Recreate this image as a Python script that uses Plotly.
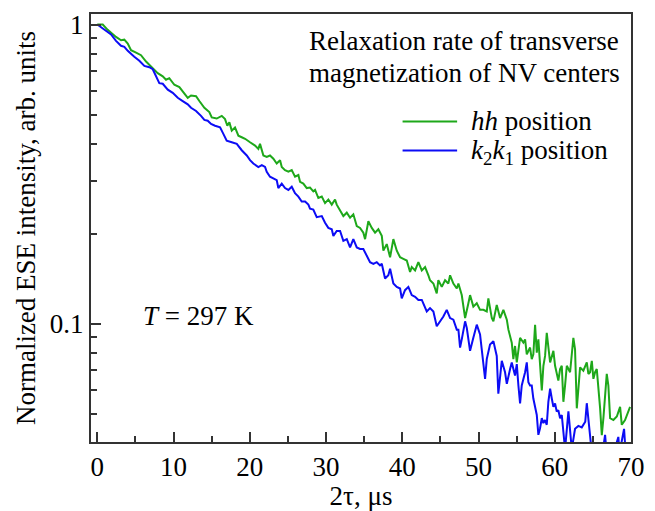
import plotly.graph_objects as go

# hh position (green)
x_hh = [0, 0.71, 1.36, 1.89, 2.45, 3.11, 3.54, 3.99, 4.42, 5.08, 5.73, 6.39, 6.82, 7.48, 7.92, 8.58, 9.01, 9.44,
        10.10, 10.76, 11.41, 11.86, 12.29, 12.95, 13.38, 14.04, 14.69, 15.01, 15.66, 16.32, 16.75, 17.05, 17.32,
        17.63, 18.06, 18.50, 18.94, 19.38, 20.03, 20.69, 21.12, 21.34, 21.78, 22.22, 22.65, 23.09, 23.53, 23.97,
        24.19, 24.62, 25.06, 25.50, 25.93, 26.37, 26.59, 27.02, 27.47, 27.90, 28.33, 28.56, 28.99, 29.44, 29.87,
        30.30, 30.75, 31.18, 31.40, 31.84, 32.27, 32.72, 33.15, 33.58, 34.03, 34.46, 34.89, 35.12, 35.55, 36.00,
        36.43, 36.86, 37.31, 37.52, 37.96, 38.40, 38.83, 39.28, 39.71, 40.14, 40.59, 41.02, 41.24, 41.68, 42.11,
        42.56, 42.99, 43.42, 43.64, 44.08, 44.52, 44.73, 45.18, 45.61, 46.04, 46.27, 46.70, 47.15, 47.36, 47.80,
        48.01, 48.24, 48.67, 48.89, 49.32, 49.77, 50.20, 50.64, 51.08, 51.29, 51.74, 51.95, 52.39, 52.83, 53.26,
        53.71, 53.92, 54.36, 54.57, 54.79, 55.02, 55.45, 55.88, 56.11, 56.33, 56.76, 56.98, 57.19, 57.42, 57.64,
        57.85, 58.07, 58.30, 58.51, 58.73, 58.95, 59.16, 59.39, 59.82, 60.04, 60.47, 60.70, 60.92, 61.13, 61.35,
        61.58, 62.01, 62.44, 62.66, 62.89, 63.10, 63.32, 63.75, 64.20, 64.41, 64.63, 64.86, 65.07, 65.29, 65.51,
        65.95, 66.17, 66.38, 66.82, 67.03, 67.26, 67.69, 68.14, 68.57, 68.79, 69.22, 69.45, 69.88]
y_hh = [1.0, 1.0, 0.960, 0.932, 0.909, 0.886, 0.890, 0.864, 0.821, 0.805, 0.790, 0.752, 0.733, 0.705, 0.688, 0.671,
        0.654, 0.662, 0.629, 0.618, 0.591, 0.569, 0.579, 0.576, 0.555, 0.527, 0.510, 0.489, 0.485, 0.495, 0.483,
        0.459, 0.471, 0.442, 0.453, 0.425, 0.420, 0.415, 0.404, 0.394, 0.384, 0.399, 0.365, 0.361, 0.365, 0.356,
        0.343, 0.352, 0.334, 0.326, 0.322, 0.326, 0.310, 0.314, 0.298, 0.294, 0.284, 0.285, 0.277, 0.280, 0.263,
        0.266, 0.253, 0.260, 0.250, 0.260, 0.250, 0.238, 0.229, 0.235, 0.226, 0.232, 0.212, 0.209, 0.2015, 0.1917,
        0.220, 0.209, 0.2015, 0.2068, 0.1965, 0.1754, 0.1845, 0.1667, 0.1917, 0.1754, 0.1667, 0.1647, 0.1626,
        0.1488, 0.1545, 0.1507, 0.1605, 0.1507, 0.1545, 0.1451, 0.1397, 0.1362, 0.1262, 0.1397, 0.1327, 0.1397,
        0.1362, 0.1451, 0.1362, 0.1311, 0.1362, 0.1246, 0.1140, 0.1044, 0.1170, 0.1246, 0.1140, 0.1170, 0.1112,
        0.1112, 0.1098, 0.1215, 0.1044, 0.1018, 0.1155, 0.1044, 0.1112, 0.1031, 0.0955, 0.0864, 0.0761, 0.0842,
        0.0742, 0.0897, 0.0864, 0.0886, 0.0790, 0.0832, 0.0761, 0.0790, 0.0992, 0.0800, 0.0886, 0.0751, 0.0598,
        0.0723, 0.0780, 0.0932, 0.0842, 0.0742, 0.0811, 0.0723, 0.0645, 0.0705, 0.0723, 0.0548, 0.0621, 0.0723,
        0.0688, 0.0897, 0.0821, 0.0521, 0.0606, 0.0714, 0.0696, 0.0742, 0.0679, 0.0688, 0.0751, 0.0654, 0.0688,
        0.0705, 0.0521, 0.0424, 0.0483, 0.0679, 0.0621, 0.0483, 0.0476, 0.0489, 0.0527, 0.0459, 0.0476, 0.0495,
        0.0527]

# k2k1 position (blue)
x_k2k1 = [0, 0.49, 1.14, 1.80, 2.45, 3.11, 3.54, 3.99, 4.85, 5.51, 6.17, 6.82, 7.27, 7.70, 8.13, 8.58, 9.24, 9.89,
          10.55, 11.20, 11.86, 12.29, 12.95, 13.60, 14.04, 14.48, 14.92, 15.44, 16.10, 16.53, 16.97, 17.63, 18.29,
          18.94, 19.60, 20.03, 20.46, 21.12, 21.57, 22.00, 22.22, 22.65, 23.09, 23.53, 23.74, 24.19, 24.62, 25.06,
          25.50, 25.93, 26.37, 26.81, 27.25, 27.68, 27.90, 28.33, 28.78, 29.21, 29.44, 29.87, 30.30, 30.75, 30.96,
          31.40, 31.84, 32.27, 32.72, 33.15, 33.58, 34.03, 34.46, 34.89, 35.34, 35.77, 36.21, 36.65, 37.08, 37.31,
          37.74, 38.17, 38.40, 38.83, 39.28, 39.71, 39.93, 40.36, 40.80, 41.24, 41.68, 42.11, 42.56, 42.99, 43.21,
          43.64, 44.08, 44.52, 44.96, 45.39, 45.83, 46.27, 46.70, 47.15, 47.36, 47.58, 47.80, 48.24, 48.46, 48.89,
          49.32, 49.77, 50.20, 50.43, 50.64, 50.86, 51.08, 51.51, 51.95, 52.39, 52.60, 53.05, 53.48, 53.71, 54.14,
          54.36, 54.79, 55.02, 55.23, 55.45, 55.67, 56.11, 56.33, 56.54, 56.76, 56.98, 57.19, 57.42, 57.64, 57.85,
          58.07, 58.30, 58.51, 58.73, 58.95, 59.16, 59.39, 59.61, 59.82, 60.04, 60.26, 60.47, 60.70, 60.92, 61.13,
          61.35, 61.79, 62.23, 62.66, 63.10, 63.54, 64.00, 64.20, 64.63, 64.86, 65.50, 66.20, 66.60, 66.80, 67.60,
          68.34, 68.50, 69.09, 69.30, 70.0]
y_k2k1 = [1.0, 0.980, 0.955, 0.927, 0.882, 0.849, 0.842, 0.817, 0.781, 0.757, 0.727, 0.720, 0.709, 0.671, 0.637,
          0.634, 0.606, 0.591, 0.569, 0.555, 0.541, 0.527, 0.514, 0.495, 0.480, 0.477, 0.465, 0.459, 0.453, 0.431,
          0.409, 0.404, 0.399, 0.380, 0.365, 0.352, 0.343, 0.334, 0.339, 0.334, 0.322, 0.310, 0.305, 0.302, 0.284,
          0.294, 0.284, 0.280, 0.287, 0.273, 0.266, 0.256, 0.256, 0.250, 0.2425, 0.2407, 0.2271, 0.229, 0.229,
          0.2175, 0.209, 0.2068, 0.1965, 0.2042, 0.2042, 0.1892, 0.1917, 0.1798, 0.1917, 0.1798, 0.1777, 0.1777,
          0.1689, 0.1605, 0.1585, 0.1605, 0.1565, 0.1585, 0.1415, 0.1451, 0.1526, 0.1362, 0.1327, 0.1311, 0.1215,
          0.1294, 0.1327, 0.1246, 0.1230, 0.1200, 0.1200, 0.1140, 0.1098, 0.1127, 0.1098, 0.0980, 0.1018, 0.1057,
          0.1112, 0.1044, 0.1031, 0.0955, 0.0955, 0.0832, 0.0886, 0.1018, 0.0968, 0.0811, 0.0897, 0.0992, 0.0920,
          0.0821, 0.0705, 0.0654, 0.0761, 0.0852, 0.0874, 0.0780, 0.0583, 0.0751, 0.0688, 0.0629, 0.0705, 0.0742,
          0.0671, 0.0732, 0.0621, 0.0541, 0.0621, 0.0688, 0.0742, 0.0637, 0.0621, 0.0621, 0.0562, 0.0527, 0.0495,
          0.0425, 0.0447, 0.0483, 0.0465, 0.0476, 0.0459, 0.0548, 0.0606, 0.0562, 0.0527, 0.0541, 0.0508, 0.0514,
          0.0483, 0.0495, 0.0447, 0.038, 0.0509, 0.038, 0.0445, 0.0455, 0.0450, 0.0470, 0.0542, 0.0425, 0.037,
          0.035, 0.036, 0.0425, 0.037, 0.036, 0.0418, 0.037, 0.0445, 0.037, 0.036]

x_major = [0, 10, 20, 30, 40, 50, 60, 70]
y_major = [0.1, 1]
y_major_labels = ["0.1", "1"]
y_minor = [0.05, 0.06, 0.07, 0.08, 0.09, 0.2, 0.3, 0.4, 0.5, 0.6, 0.7, 0.8, 0.9]

GREEN = "#1ea81a"
BLUE = "#0c0cf5"
FONT = "Liberation Serif"
AX = "#333333"
FS = 27

fig = go.Figure()
fig.add_trace(go.Scatter(x=x_hh, y=y_hh, mode="lines", line=dict(color=GREEN, width=2), showlegend=False))
fig.add_trace(go.Scatter(x=x_k2k1, y=y_k2k1, mode="lines", line=dict(color=BLUE, width=2), showlegend=False))

fig.update_layout(
    width=655, height=511,
    margin=dict(l=91, r=24, t=10, b=67),
    paper_bgcolor="white", plot_bgcolor="white",
    font=dict(family=FONT, size=FS, color="black"),
    xaxis=dict(
        range=[-0.83, 70], tickmode="array", tickvals=x_major,
        ticks="inside", ticklen=10, tickwidth=1.5, tickcolor=AX,
        minor=dict(dtick=5, tick0=0, ticks="inside", ticklen=6, tickwidth=1.5, tickcolor=AX),
        showline=True, linecolor=AX, linewidth=2, mirror=True, showgrid=False, zeroline=False,
        tickfont=dict(family=FONT, size=FS),
        title=dict(text="2τ, μs", font=dict(family=FONT, size=FS), standoff=0),
    ),
    yaxis=dict(
        type="log", range=[-1.3957, 0.0353], tickmode="array", tickvals=y_major, ticktext=y_major_labels,
        ticks="inside", ticklen=10, tickwidth=1.5, tickcolor=AX,
        minor=dict(tickmode="array", tickvals=y_minor, ticks="inside", ticklen=6, tickwidth=1.5, tickcolor=AX),
        showline=True, linecolor=AX, linewidth=2, mirror=True, showgrid=False, zeroline=False,
        tickfont=dict(family=FONT, size=FS),
        title=dict(text="Normalized ESE intensity, arb. units", font=dict(family=FONT, size=FS), standoff=6),
    ),
)

fig.add_annotation(xref="paper", yref="paper", x=0.691, y=0.936, xanchor="center", yanchor="middle",
                   text="Relaxation rate of transverse", showarrow=False, font=dict(family=FONT, size=FS))
fig.add_annotation(xref="paper", yref="paper", x=0.691, y=0.862, xanchor="center", yanchor="middle",
                   text="magnetization of NV centers", showarrow=False, font=dict(family=FONT, size=FS))

# legend
fig.add_shape(type="line", xref="paper", yref="paper", x0=0.577, x1=0.678, y0=0.749, y1=0.749,
              line=dict(color=GREEN, width=2))
fig.add_shape(type="line", xref="paper", yref="paper", x0=0.577, x1=0.678, y0=0.681, y1=0.681,
              line=dict(color=BLUE, width=2))
fig.add_annotation(xref="paper", yref="paper", x=0.700, y=0.751, xanchor="left", yanchor="middle",
                   text="<i>hh</i> position", showarrow=False, font=dict(family=FONT, size=FS))
fig.add_annotation(xref="paper", yref="paper", x=0.700, y=0.677, xanchor="left", yanchor="middle",
                   text="<i>k</i><sub>2</sub><i>k</i><sub>1</sub> position", showarrow=False,
                   font=dict(family=FONT, size=FS))

fig.add_annotation(xref="paper", yref="paper", x=0.092, y=0.295, xanchor="left", yanchor="middle",
                   text="<i>T</i> = 297 K", showarrow=False, font=dict(family=FONT, size=FS))

fig.write_html("out.html")
